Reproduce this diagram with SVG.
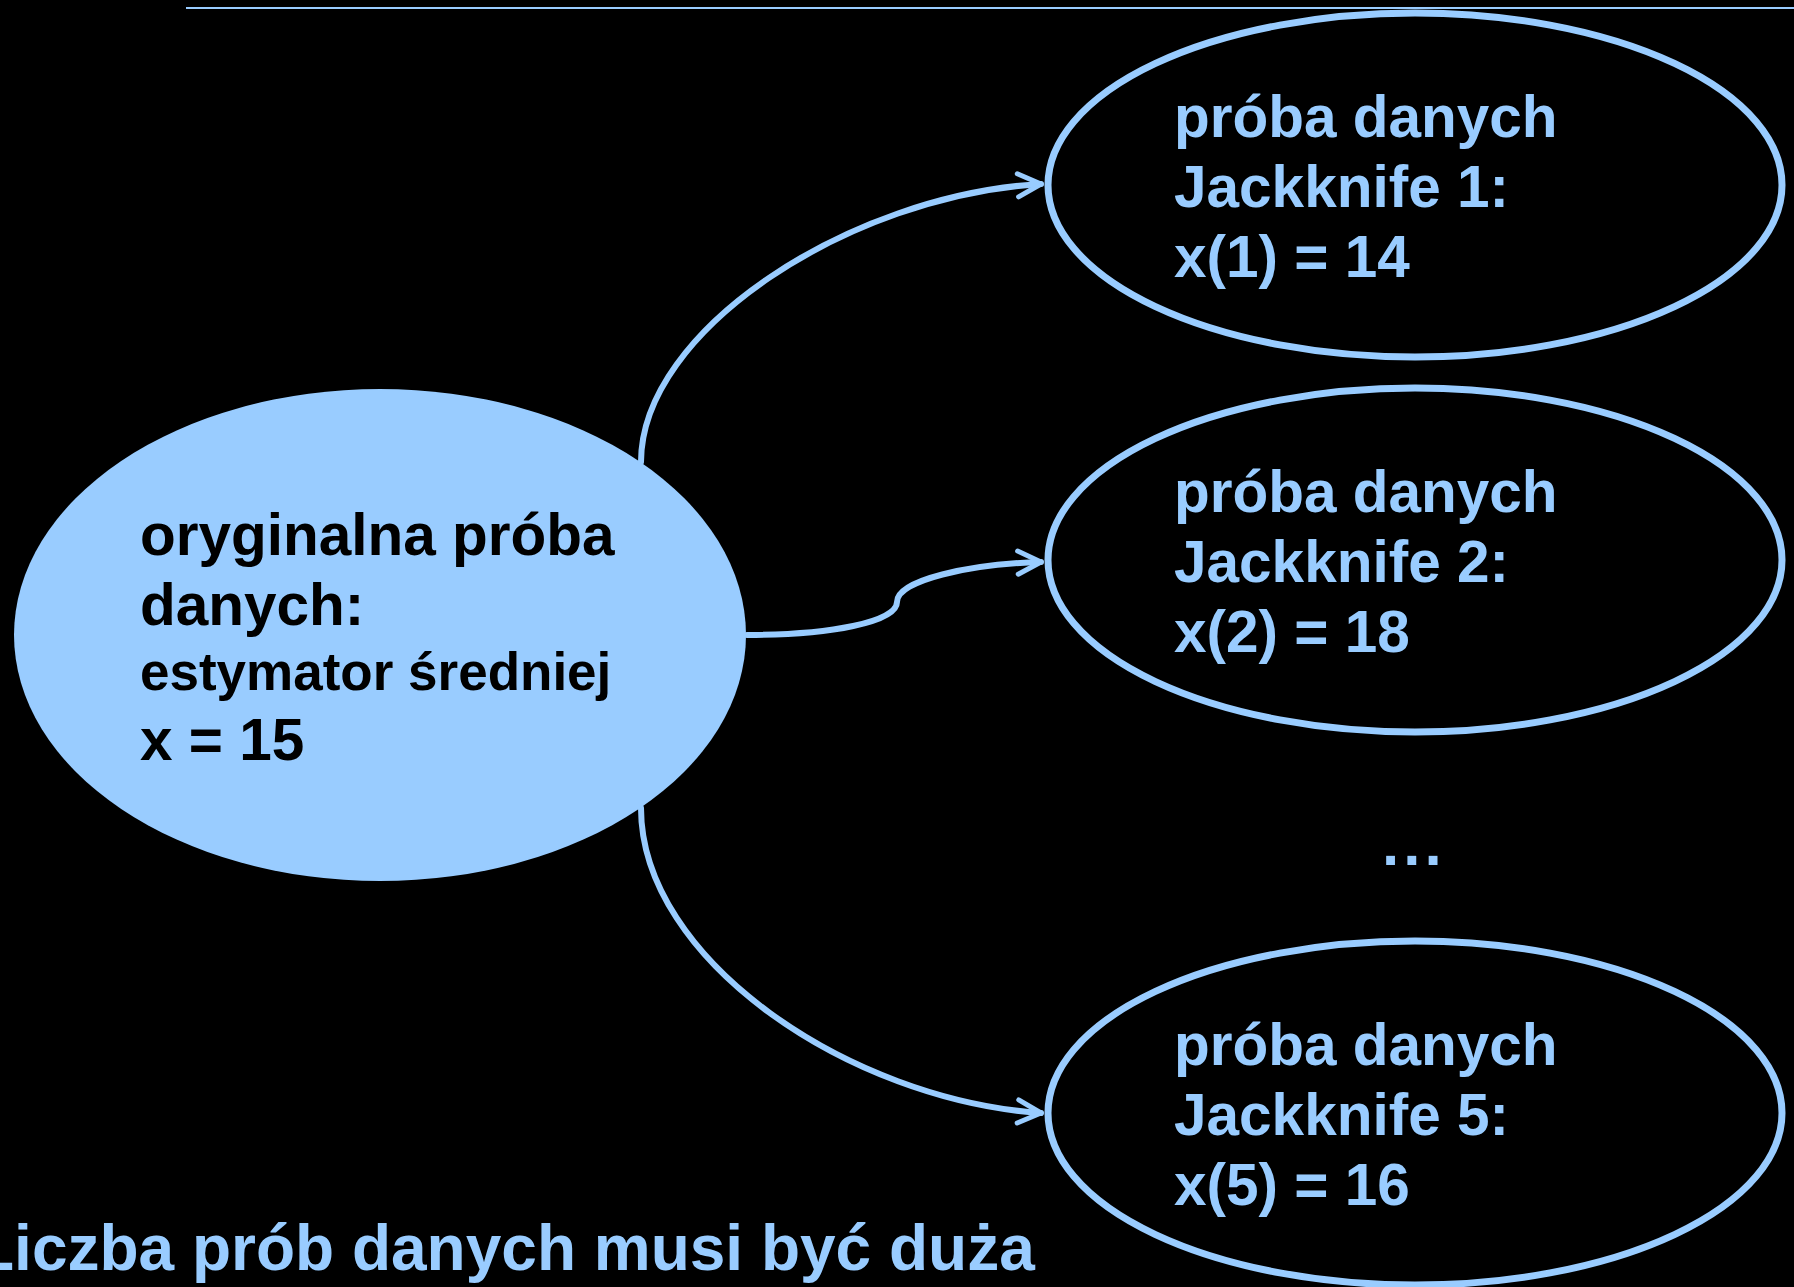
<svg xmlns="http://www.w3.org/2000/svg" width="1794" height="1287" viewBox="0 0 1794 1287">
  <defs>
    <style>
      .bg { fill: #000000; }
      .node-filled { fill: #99CCFF; stroke: none; }
      .node-outline { fill: none; stroke: #99CCFF; stroke-width: 7; }
      .edge { fill: none; stroke: #99CCFF; stroke-width: 6; stroke-linecap: round; stroke-linejoin: round; }
      .t { font-family: "Liberation Sans", Arial, sans-serif; font-weight: bold; }
      .dark { fill: #000000; }
      .light { fill: #99CCFF; }
    </style>
    <marker id="arrow" viewBox="0 0 20 20" refX="17" refY="10" markerWidth="5.5" markerHeight="5.5" markerUnits="strokeWidth" orient="auto">
      <path d="M3 3 L17 10 L3 17" fill="none" stroke="#99CCFF" stroke-width="3" stroke-linecap="round" stroke-linejoin="round"/>
    </marker>
  </defs>
  <rect class="bg" x="0" y="0" width="1794" height="1287"/>
  <line x1="186" y1="8" x2="1794" y2="8" stroke="#99CCFF" stroke-width="2"/>

  <g id="connectors">
    <path class="edge" d="M641 462 C 641 330, 850 195, 1041 184" marker-end="url(#arrow)"/>
    <path class="edge" d="M747 635 C 830 635, 897 622, 897 602 C 897 580, 970 564, 1041 562" marker-end="url(#arrow)"/>
    <path class="edge" d="M641 808 C 641 960, 850 1100, 1041 1113" marker-end="url(#arrow)"/>
  </g>

  <g id="original">
    <ellipse class="node-filled" cx="380" cy="635" rx="366" ry="246"/>
    <text class="t dark" x="140" y="555" font-size="58.5">oryginalna próba</text>
    <text class="t dark" x="140" y="625" font-size="58.5">danych:</text>
    <text class="t dark" x="140" y="690" font-size="53">estymator średniej</text>
    <text class="t dark" x="140" y="760" font-size="58.5">x = 15</text>
  </g>

  <g id="jackknife1">
    <ellipse class="node-outline" cx="1415" cy="185" rx="367" ry="172"/>
    <text class="t light" x="1174" y="137" font-size="58.5">próba danych</text>
    <text class="t light" x="1174" y="207" font-size="58.5">Jackknife 1:</text>
    <text class="t light" x="1174" y="277" font-size="58.5">x(1) = 14</text>
  </g>

  <g id="jackknife2">
    <ellipse class="node-outline" cx="1415" cy="560" rx="367" ry="172"/>
    <text class="t light" x="1174" y="512" font-size="58.5">próba danych</text>
    <text class="t light" x="1174" y="582" font-size="58.5">Jackknife 2:</text>
    <text class="t light" x="1174" y="652" font-size="58.5">x(2) = 18</text>
  </g>

  <g id="ellipsis">
    <text class="t light" x="1382" y="865" font-size="62" letter-spacing="4">...</text>
  </g>

  <g id="jackknife5">
    <ellipse class="node-outline" cx="1415" cy="1113" rx="367" ry="172"/>
    <text class="t light" x="1174" y="1065" font-size="58.5">próba danych</text>
    <text class="t light" x="1174" y="1135" font-size="58.5">Jackknife 5:</text>
    <text class="t light" x="1174" y="1205" font-size="58.5">x(5) = 16</text>
  </g>

  <text class="t light" x="-25" y="1270" font-size="64">Liczba prób danych musi być duża</text>
</svg>
